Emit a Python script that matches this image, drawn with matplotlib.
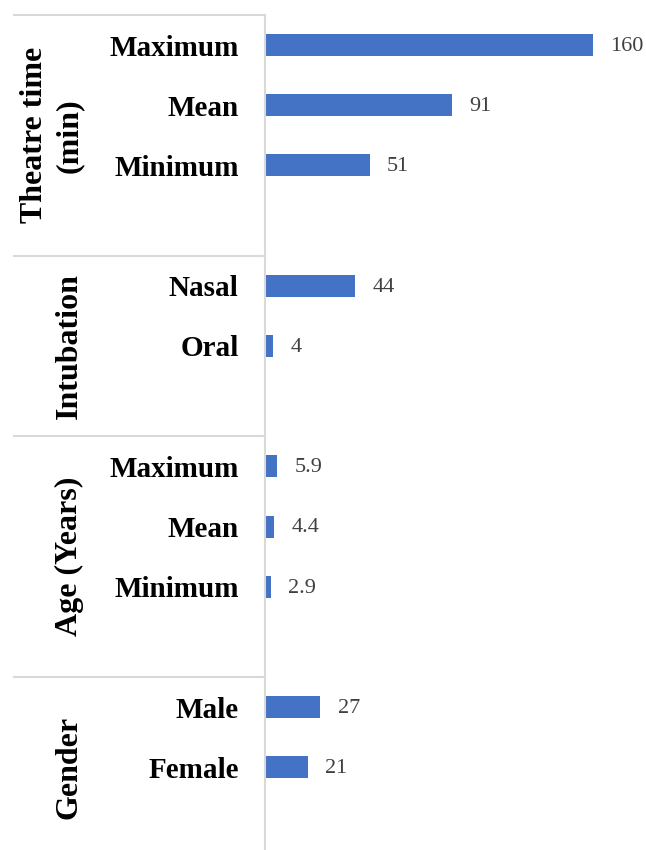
import matplotlib.pyplot as plt
import matplotlib.transforms as mtransforms

# chart values
group_names = ["Theatre time\n(min)", "Intubation", "Age (Years)", "Gender"]
theatre_labels = ["Maximum", "Mean", "Minimum"]
theatre_values = [160, 91, 51]
intubation_labels = ["Nasal", "Oral"]
intubation_values = [44, 4]
age_labels = ["Maximum", "Mean", "Minimum"]
age_values = [5.9, 4.4, 2.9]
gender_labels = ["Male", "Female"]
gender_values = [27, 21]

groups = [
    (theatre_labels, theatre_values),
    (intubation_labels, intubation_values),
    (age_labels, age_values),
    (gender_labels, gender_values),
]

SERIF = ["Liberation Serif", "DejaVu Serif"]
BAR = "#4472C4"
GRID = "#d9d9d9"

fig = plt.figure(figsize=(6.46, 8.5), dpi=100)
W, H = 646, 850
ax = fig.add_axes([265 / W, 0, (W - 265) / W, 835 / H])

# lay rows out, one blank row after every group
pos = []
labels = []
vals = []
bounds = [-0.5]
row = 0
for labs, vs in groups:
    for l, v in zip(labs, vs):
        pos.append(row)
        labels.append(l)
        vals.append(v)
        row += 1
    row += 1
    bounds.append(row - 0.5)

row_px = (677 - 15) / 11
ax.barh(pos, vals, height=0.366, color=BAR)
ax.set_ylim(-0.5 + 835 / row_px, -0.5)
ax.set_xlim(0, (W - 265) / 2.05)

for p, v in zip(pos, vals):
    ax.annotate(f"{v:g}", (v, p), xytext=(12.5, -1), textcoords="offset points",
                va="center", ha="left", fontsize=16, color="#404040",
                family=SERIF)

ax.set_yticks(pos)
ax.set_yticklabels(labels, fontsize=21, fontweight="bold", family=SERIF)
ax.tick_params(axis="y", length=0, pad=19)
ax.set_xticks([])
for s in ["top", "right", "bottom"]:
    ax.spines[s].set_visible(False)
ax.spines["left"].set_color(GRID)
ax.spines["left"].set_linewidth(1.5)

# group labels and separators on the left
tr = mtransforms.blended_transform_factory(fig.transFigure, ax.transData)
for b in bounds[:-1]:
    ax.plot([14 / W, 265 / W], [b, b], transform=tr, color=GRID, lw=1.5,
            clip_on=False)
for name, top, bot in zip(group_names, bounds[:-1], bounds[1:]):
    fig.text(84 / W, (top + bot) / 2, name, transform=tr, rotation=90,
             ha="right", va="center", multialignment="center",
             fontsize=23, fontweight="bold", family=SERIF, linespacing=1.25)

fig.savefig("out.png", dpi=100)
